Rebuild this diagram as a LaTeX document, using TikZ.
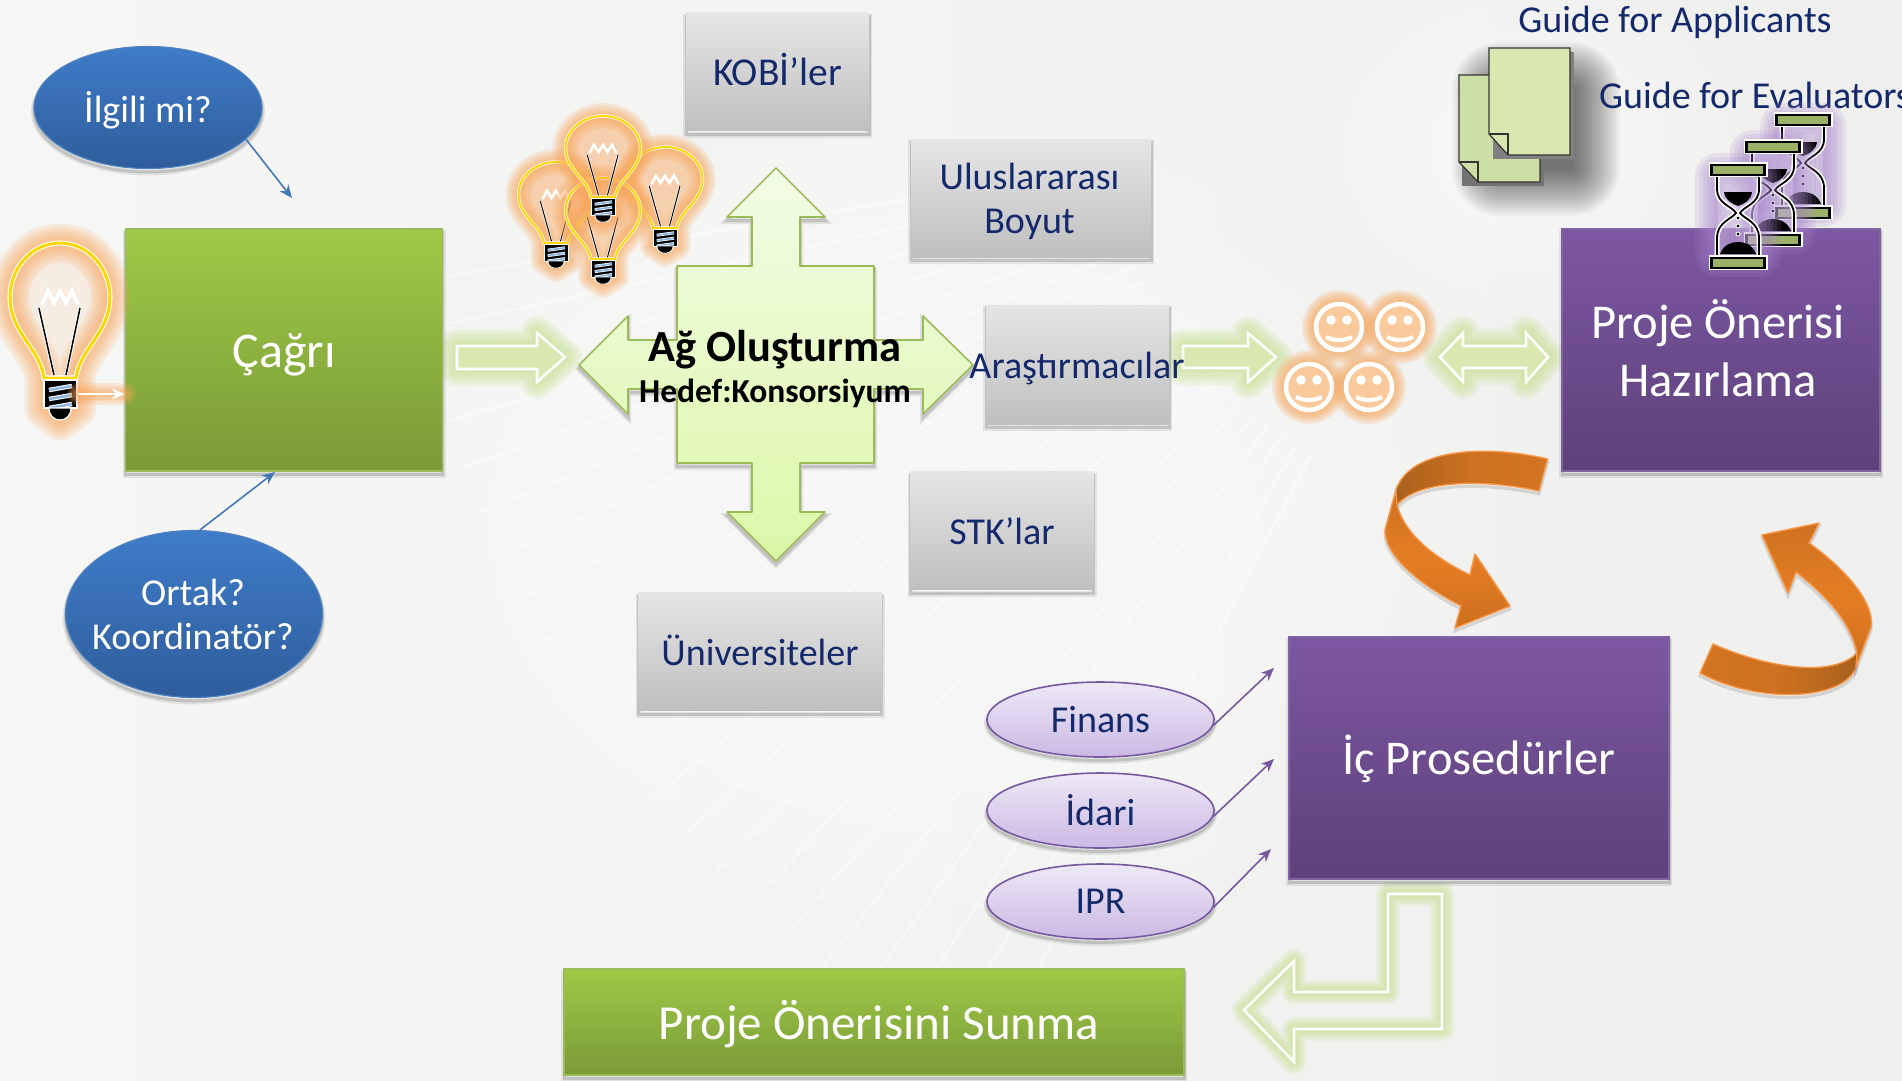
\documentclass[tikz,border=0pt]{standalone}
\usepackage{fontspec}
\setmainfont{Carlito}
\usetikzlibrary{arrows.meta,shapes.geometric}
\definecolor{bgl}{HTML}{F6F6F5}
\definecolor{bgr}{HTML}{EFEFEE}
\definecolor{navy}{HTML}{14296B}
\definecolor{glowg}{HTML}{C4E08A}
\definecolor{glowo}{HTML}{F9A65A}
\definecolor{glowp}{HTML}{A886CC}
\definecolor{orgL}{HTML}{F79646}
\definecolor{arrb}{HTML}{4478B8}
\definecolor{arrp}{HTML}{76589E}
\definecolor{pagef}{HTML}{D8E8B0}
\definecolor{pageb}{HTML}{CDDFA4}
\definecolor{sandg}{HTML}{9BB168}
\definecolor{stripe}{HTML}{8DB4E2}
\newcommand\softglow[3]{\foreach \kk in {1,...,6}{\pgfmathsetmacro\gw{#2*\kk/6}\draw[#1,draw opacity=.16,line width=\gw pt,line join=round,line cap=round] #3;}}
\newcommand\bulb[6]{%
\begin{scope}[shift={(#1,#2)},xscale=#3,yscale=#4]
\softglow{glowo}{#5*13}{(-16,135) .. controls (-20,105) and (-50,90) .. (-50,54) .. controls (-50,25) and (-28,0) .. (0,0) .. controls (28,0) and (50,25) .. (50,54) .. controls (50,90) and (20,105) .. (16,135) -- (17,165) -- (0,178) -- (-16,165) -- cycle}
\fill[glowo,opacity=#6] (-16,135) .. controls (-20,105) and (-50,90) .. (-50,54) .. controls (-50,25) and (-28,0) .. (0,0) .. controls (28,0) and (50,25) .. (50,54) .. controls (50,90) and (20,105) .. (16,135) -- cycle;
\draw[white,line width=#5*1.7pt] (-16,135) .. controls (-20,105) and (-50,90) .. (-50,54) .. controls (-50,25) and (-28,0) .. (0,0) .. controls (28,0) and (50,25) .. (50,54) .. controls (50,90) and (20,105) .. (16,135) -- cycle;
\draw[yellow!75!orange,line width=#5*1pt] (-16,135) .. controls (-20,105) and (-50,90) .. (-50,54) .. controls (-50,25) and (-28,0) .. (0,0) .. controls (28,0) and (50,25) .. (50,54) .. controls (50,90) and (20,105) .. (16,135) -- cycle;
\draw[white,line width=#5*1.3pt] (-18,62) -- (-12,48) -- (-6,60) -- (0,48) -- (6,60) -- (12,48) -- (18,62);
\draw[white,line width=#5*1.1pt] (-21,65) -- (-6,132) (20,65) -- (6,132);
\draw[black,line width=#5*.5pt] (-21,65) -- (-6,132) (20,65) -- (6,132);
\fill[black,draw=white,line width=#5*.4pt] (-16,137) rectangle (17,165);
\draw[white,line width=#5*1.5pt] (-11,147) -- (12,143) (-11,156) -- (12,152) (-11,165) -- (12,161);
\draw[stripe,line width=#5*.8pt] (-11,147) -- (12,143) (-11,156) -- (12,152) (-11,165) -- (12,161);
\fill[black,draw=white,line width=#5*.4pt] (-11,165) .. controls (-11,181) and (11,181) .. (11,165) -- cycle;
\end{scope}}
\newcommand\hglass[2]{%
\begin{scope}[shift={(#1,#2)}]
\softglow{glowp}{46}{(-20,14) -- (-20,92) -- (20,92) -- (20,14) -- cycle}
\fill[white,opacity=.2] (-20,14) rectangle (20,93);
\foreach \cw/\lw in {white/5,black/1.8}{
\draw[\cw,line width=\lw pt] (-21,14) -- (-21,27) .. controls (-21,42) and (-6,44) .. (-2,51) .. controls (-6,57) and (-21,60) .. (-21,76) -- (-21,93);
\draw[\cw,line width=\lw pt] (21,14) -- (21,27) .. controls (21,42) and (6,44) .. (2,51) .. controls (6,57) and (21,60) .. (21,76) -- (21,93);}
\fill[black] (-14,30) -- (14,30) .. controls (13,38) and (6,42) .. (0,44) .. controls (-6,42) and (-13,38) .. (-14,30) -- cycle;
\fill[black] (-18,92) .. controls (-14,82) and (-6,80) .. (0,80) .. controls (6,80) and (14,82) .. (18,92) -- cycle;
\foreach \dy in {56,64,72}{\fill[black,draw=white,line width=.9pt] (0,\dy) circle[radius=2];}
\foreach \by in {0,93}{
\fill[white] (-29.5,\by) rectangle (29.5,\by+15);
\fill[black] (-28,\by+1.5) rectangle (28,\by+13.5);
\fill[sandg] (-25,\by+3.5) rectangle (25,\by+11.5);}
\end{scope}}
\newcommand\smiley[2]{%
\begin{scope}[shift={(#1,#2)}]
\softglow{glowo}{22}{(0,0) circle[radius=26]}
\fill[glowo!60!white] (0,0) circle[radius=25];
\draw[white,line width=4.5pt] (0,0) circle[radius=23];
\fill[white] (-8,-7) circle[radius=4.8] (8,-7) circle[radius=4.8];
\draw[white,line width=4pt] (-13,10) .. controls (-5,14) and (5,14) .. (13,10);
\end{scope}}
\tikzset{
  softshadow/.style={preaction={draw=black,draw opacity=.08,line width=6pt,transform canvas={yshift=-4pt}},
    preaction={draw=black,draw opacity=.14,line width=3pt,transform canvas={yshift=-3.5pt}}},
  graybox/.style={rectangle,inner sep=0pt,top color=gray!20,bottom color=gray!50,draw=none,softshadow},
  graytext/.style={inner sep=0pt,text=navy,font=\fontsize{38}{44}\selectfont,align=center},
  gbox/.style={rectangle,inner sep=0pt,top color={rgb,255:red,159;green,201;blue,71},bottom color={rgb,255:red,122;green,154;blue,55},draw={rgb,255:red,155;green,187;blue,89},line width=1.2pt,softshadow},
  pbox/.style={rectangle,inner sep=0pt,top color={rgb,255:red,124;green,87;blue,163},bottom color={rgb,255:red,94;green,65;blue,121},draw={rgb,255:red,128;green,100;blue,162},line width=1.2pt,softshadow},
  bluell/.style={ellipse,inner sep=0pt,top color={rgb,255:red,63;green,124;blue,201},bottom color={rgb,255:red,47;green,93;blue,155},draw={rgb,255:red,79;green,129;blue,189},line width=1.2pt,softshadow},
  whitetext/.style={inner sep=0pt,text=white,align=center},
  lilacell/.style={ellipse,inner sep=0pt,minimum width=227pt,minimum height=75pt,top color={rgb,255:red,238;green,232;blue,246},bottom color={rgb,255:red,203;green,185;blue,228},draw=arrp,line width=1.6pt,softshadow,text=navy,font=\fontsize{38}{40}\selectfont},
  thinb/.style={draw=arrb,line width=1.6pt,-{Stealth[length=13pt,width=11pt]}},
  thinp/.style={draw=arrp,line width=1.6pt,-{Stealth[length=13pt,width=11pt]}},
  whiteout/.style={draw=white,line width=2.6pt,line join=miter},
  orgarrow/.style={draw=orgL,line width=1.4pt,line join=round,preaction={draw=black,draw opacity=.12,line width=3pt,transform canvas={yshift=-3pt}}},
  lbl/.style={inner sep=0pt},
}
\begin{document}
\begin{tikzpicture}[x=1pt,y=-1pt]
\useasboundingbox (0,0) rectangle (1902,1080);
\shade[left color=bgl,right color=bgr] (0,0) rectangle (1902,1080);
% soft light patches and rays of the background
\foreach \e in {1,...,8}{\fill[white,opacity=.1] (950,520) ellipse[x radius=560-50*\e,y radius=430-40*\e];}
\foreach \e in {1,...,5}{\fill[white,opacity=.1] (1520,150) ellipse[x radius=240-30*\e,y radius=200-25*\e];}
\foreach \a in {118,120.5,...,172}{\draw[white,opacity=.4,line width=2.5pt] ({1500+400*cos(\a)},{100+400*sin(\a)}) -- ({1500+1100*cos(\a)},{100+1100*sin(\a)});}

% --- document icons
\foreach \e in {1,...,24}{\fill[black,opacity=.028,rounded corners=2*\e pt] ({1500-2*\e},{90-2*\e}) rectangle ({1572+2*\e},{168+2*\e});}
\fill[black!55] (1462,78) rectangle (1544,186);
\draw[black!80,fill=pageb,line width=1.2pt] (1459,75) -- (1540,75) -- (1540,182) -- (1478,182) -- (1459,162) -- cycle;
\draw[black!80,line width=1.2pt] (1459,162) -- (1478,162) -- (1478,182);
\fill[black!50] (1493,52) rectangle (1574,159);
\draw[black!80,fill=pagef,line width=1.2pt] (1489,48) -- (1570,48) -- (1570,155) -- (1508,155) -- (1489,134) -- cycle;
\draw[black!80,line width=1.2pt] (1489,134) -- (1508,134) -- (1508,155);

% --- green glow outline arrows
\newcommand\arrA{(457,346) -- (537,346) -- (537,333) -- (565,357) -- (537,382) -- (537,369) -- (457,369) -- cycle}
\newcommand\arrB{(1183,346) -- (1248,346) -- (1248,333) -- (1276,357) -- (1248,382) -- (1248,368) -- (1183,368) -- cycle}
\newcommand\arrC{(1440,357) -- (1463,333) -- (1463,346) -- (1526,346) -- (1526,333) -- (1548,357) -- (1526,382) -- (1526,368) -- (1463,368) -- (1463,382) -- cycle}
\newcommand\arrD{(1388,894) -- (1442,894) -- (1442,1029) -- (1294,1029) -- (1294,1062) -- (1244,1010) -- (1294,961) -- (1294,992) -- (1388,992) -- cycle}
\softglow{glowg}{34}{\arrA}
\softglow{glowg}{34}{\arrB}
\softglow{glowg}{34}{\arrC}
\fill[pagef] \arrA; \fill[pagef] \arrB; \fill[pagef] \arrC;
\draw[whiteout] \arrA; \draw[whiteout] \arrB; \draw[whiteout] \arrC;
\softglow{glowg}{24}{\arrD}
\draw[whiteout] \arrD;

% --- call box and its satellites
\node[gbox,minimum width=317pt,minimum height=242pt] (cagri) at (284,350) {};
\node[whitetext,font=\fontsize{50}{56}\selectfont] (cagriT) at (284,355) {Çağrı};
\node[bluell,minimum width=228pt,minimum height=122pt] (ilgili) at (148,107.5) {};
\node[whitetext,font=\fontsize{38}{44}\selectfont] (ilgiliT) at (148,110) {İlgili mi?};
\node[bluell,minimum width=257pt,minimum height=167pt] (ortak) at (194,614) {};
\node[whitetext,font=\fontsize{38}{44}\selectfont] (ortakT) at (193,614) {Ortak?\\Koordinatör?};
\coordinate (ilgiliEnd) at (292,198);
\coordinate (ortakEnd) at (275,472);
\draw[thinb] (ilgili.-18) -- (ilgiliEnd);
\draw[thinb] (ortak.86) -- (ortakEnd);

% --- bulbs
\bulb{60}{243}{1}{1}{3}{.12}
\coordinate (bulbBase) at (78,394);
\softglow{glowo}{22}{(bulbBase) -- (cagri.west |- bulbBase)}
\draw[white,line width=1.8pt,-{Stealth[length=13pt,width=11pt]}] (bulbBase) -- (cagri.west |- bulbBase);
\bulb{556}{162}{.75}{.6}{2}{.45}
\bulb{665}{147}{.75}{.6}{2}{.45}
\bulb{603}{178}{.75}{.6}{2}{.45}
\bulb{603}{116}{.75}{.6}{2}{.45}

% --- central cross arrow
\draw[draw={rgb,255:red,155;green,187;blue,89},line width=1.6pt,line join=round,top color={rgb,255:red,242;green,252;blue,230},bottom color={rgb,255:red,220;green,248;blue,168},softshadow]
  (776,168) -- (825,217) -- (800,217) -- (800,266) -- (874,266) -- (874,340) -- (923,340) -- (923,316) -- (973,365) -- (923,414) -- (923,389) -- (874,389) -- (874,463) -- (800,463) -- (800,512) -- (825,512) -- (776,561) -- (727,512) -- (752,512) -- (752,463) -- (677,463) -- (677,389) -- (628,389) -- (628,414) -- (579,365) -- (628,316) -- (628,340) -- (677,340) -- (677,266) -- (752,266) -- (752,217) -- (727,217) -- cycle;
\node[lbl,font=\fontsize{44.5}{50}\selectfont\bfseries,text=black] (agt) at (775,349.5) {Ağ Oluşturma};
\node[lbl,font=\fontsize{33.5}{38}\selectfont\bfseries,text=black] (hedef) at (775,393.5) {Hedef:Konsorsiyum};

% --- gray boxes
\node[graybox,minimum width=183pt,minimum height=118pt] (kobi) at (777.5,71.5) {};
\node[graytext,font=\fontsize{39.5}{44}\selectfont] (kobiT) at (777.5,69.5) {KOBİ’ler};
\node[graybox,minimum width=240pt,minimum height=118pt] (ulus) at (1031,198) {};
\node[graytext] (ulusT) at (1029.5,201) {Uluslararası\\ Boyut};
\node[graybox,minimum width=183pt,minimum height=119pt] (aras) at (1077.5,364.5) {};
\node[graytext] (arasT) at (1077,368) {Araştırmacılar};
\node[graybox,minimum width=183pt,minimum height=118pt] (stk) at (1002,530.5) {};
\node[graytext] (stkT) at (1002,531) {STK’lar};
\node[graybox,minimum width=243pt,minimum height=118pt] (univ) at (760,651.5) {};
\node[graytext] (univT) at (760,650) {Üniversiteler};

% --- smileys
\smiley{1339}{327}
\smiley{1400}{327}
\smiley{1309}{387}
\smiley{1369}{387}

% --- guides
\node[lbl,text=navy,font=\fontsize{38}{44}\selectfont] (gapp) at (1675,22) {Guide for Applicants};
\node[lbl,text=navy,font=\fontsize{38}{44}\selectfont,anchor=west] (geval) at (1599,95) {Guide for Evaluators};

% --- purple boxes
\node[pbox,minimum width=318pt,minimum height=242pt] (proje) at (1721,350) {};
\node[whitetext,font=\fontsize{48.6}{58}\selectfont] (projeT) at (1718,348) {Proje Önerisi\\Hazırlama};
\node[pbox,minimum width=380pt,minimum height=242pt] (ic) at (1479,758) {};
\node[whitetext,font=\fontsize{48.5}{56}\selectfont] (icT) at (1479,759) {İç Prosedürler};
\node[gbox,minimum width=620pt,minimum height=106pt] (sunma) at (874,1022) {};
\node[whitetext,font=\fontsize{49}{54}\selectfont] (sunmaT) at (879,1024.5) {Proje Önerisini Sunma};

% --- hourglasses
\hglass{1803}{112}
\hglass{1773}{139}
\hglass{1738}{162}

% --- lilac ellipses
\node[lilacell] (finans) at (1100.5,719.5) {Finans};
\node[lilacell] (idari) at (1100.5,810.5) {İdari};
\node[lilacell] (ipr) at (1100.5,901.5) {IPR};
\coordinate (fEnd) at (1274,668);
\coordinate (iEnd) at (1274,759);
\coordinate (pEnd) at (1271,849);
\draw[thinp] (finans.-3) -- (fEnd);
\draw[thinp] (idari.-3) -- (iEnd);
\draw[thinp] (ipr.-3) -- (pEnd);

% --- orange curved arrows
\draw[orgarrow,left color={rgb,255:red,168;green,97;blue,28},right color={rgb,255:red,210;green,116;blue,33},middle color={rgb,255:red,206;green,113;blue,32}]
  (1547.5,459) .. controls (1490,445) and (1410,447) .. (1396,490) -- (1397,505) .. controls (1420,478) and (1490,480) .. (1539,491) -- cycle;
\draw[orgarrow,top color={rgb,255:red,206;green,113;blue,32},bottom color={rgb,255:red,206;green,110;blue,30},middle color={rgb,255:red,228;green,126;blue,36}]
  (1396,490) -- (1385,530) .. controls (1385,560) and (1430,590) .. (1461,606) -- (1455,628) -- (1510,606) -- (1475,554) -- (1470,575) .. controls (1435,558) and (1405,535) .. (1397,505) -- cycle;
\draw[orgarrow,left color={rgb,255:red,210;green,116;blue,33},right color={rgb,255:red,168;green,97;blue,28},middle color={rgb,255:red,206;green,113;blue,32}]
  (1713,644) .. controls (1760,665) and (1830,680) .. (1857,653) -- (1856,667) .. controls (1845,700) and (1760,705) .. (1700,673) -- cycle;
\draw[orgarrow,top color={rgb,255:red,206;green,113;blue,32},bottom color={rgb,255:red,206;green,110;blue,30},middle color={rgb,255:red,228;green,126;blue,36}]
  (1857,653) .. controls (1850,620) and (1825,595) .. (1796,572) -- (1788,593) -- (1762,535) -- (1819,523) -- (1809,543) .. controls (1840,565) and (1875,600) .. (1871,627) -- (1856,667) -- cycle;
\end{tikzpicture}
\end{document}
